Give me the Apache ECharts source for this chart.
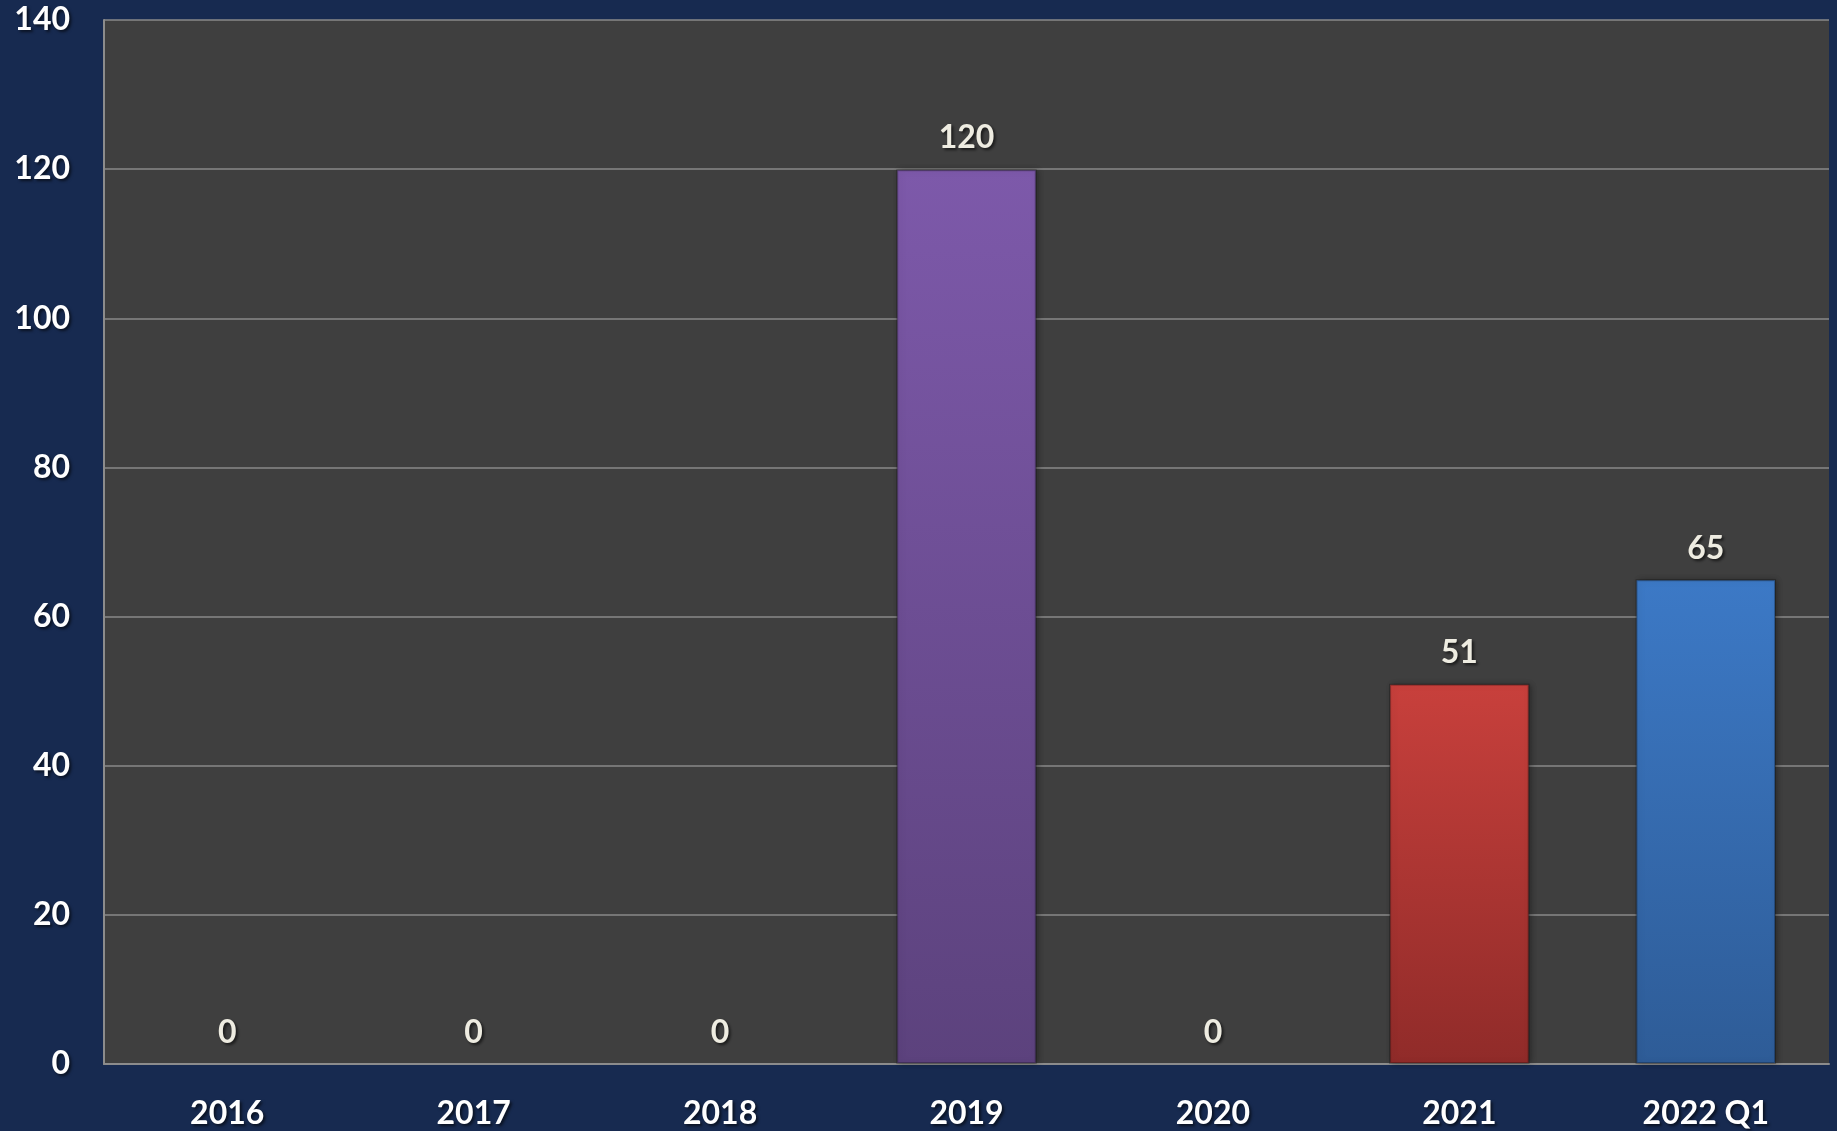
<!DOCTYPE html>
<html><head><meta charset="utf-8">
<script src="https://cdn.jsdelivr.net/npm/echarts@6/dist/echarts.min.js"></script>
<style>html,body{margin:0;padding:0;background:#172A50;}#c{width:1837px;height:1131px;}</style>
</head><body><div id="c"></div>
<script>
const categories = ['2016','2017','2018','2019','2020','2021','2022 Q1'];
const values = [0,0,0,120,0,51,65];
const yTicks = [0,20,40,60,80,100,120,140];

const palette = {
  '2019': ['#7D59AA','#5C427D'],
  '2021': ['#C8403C','#902B29'],
  '2022 Q1': ['#3C79C6','#2E5C97']
};
const chart = echarts.init(document.getElementById('c'));
const shadow = {textShadowColor:'rgba(0,0,0,0.6)',textShadowBlur:3,textShadowOffsetX:2,textShadowOffsetY:2};
chart.setOption({
  backgroundColor:'#172A50',
  animation:false,
  grid:{left:104,right:8,top:20,bottom:67,show:true,backgroundColor:'#3F3F3F',borderWidth:0},
  xAxis:{type:'category',data:categories,
    axisLine:{lineStyle:{color:'#8C8C8C',width:2}},axisTick:{show:false},
    axisLabel:Object.assign({color:'#FFFFFF',fontFamily:'Lato',fontWeight:'bold',fontSize:32,margin:34},shadow)},
  yAxis:{type:'value',min:yTicks[0],max:yTicks[yTicks.length-1],interval:20,
    axisLine:{show:true,lineStyle:{color:'#8C8C8C',width:2}},axisTick:{show:false},
    splitLine:{lineStyle:{color:'#8A8A8A',width:1.5}},
    axisLabel:Object.assign({color:'#FFFFFF',fontFamily:'Lato',fontWeight:'bold',fontSize:32,margin:34},shadow)},
  series:[{type:'bar',barWidth:'57%',
    data:values.map((v,i)=>{
      const c = palette[categories[i]] || ['#888','#666'];
      return {value:v,itemStyle:{
        color:new echarts.graphic.LinearGradient(0,0,0,1,[{offset:0,color:c[0]},{offset:1,color:c[1]}]),
        borderColor:'rgba(0,0,0,0.25)',borderWidth:v?2:0,
        shadowColor:'rgba(0,0,0,0.35)',shadowBlur:6,shadowOffsetX:2}};
    }),
    label:Object.assign({show:true,position:'top',distance:15,color:'#EEECE1',fontFamily:'Lato',fontWeight:'bold',fontSize:32},shadow)
  }]
});
</script></body></html>
